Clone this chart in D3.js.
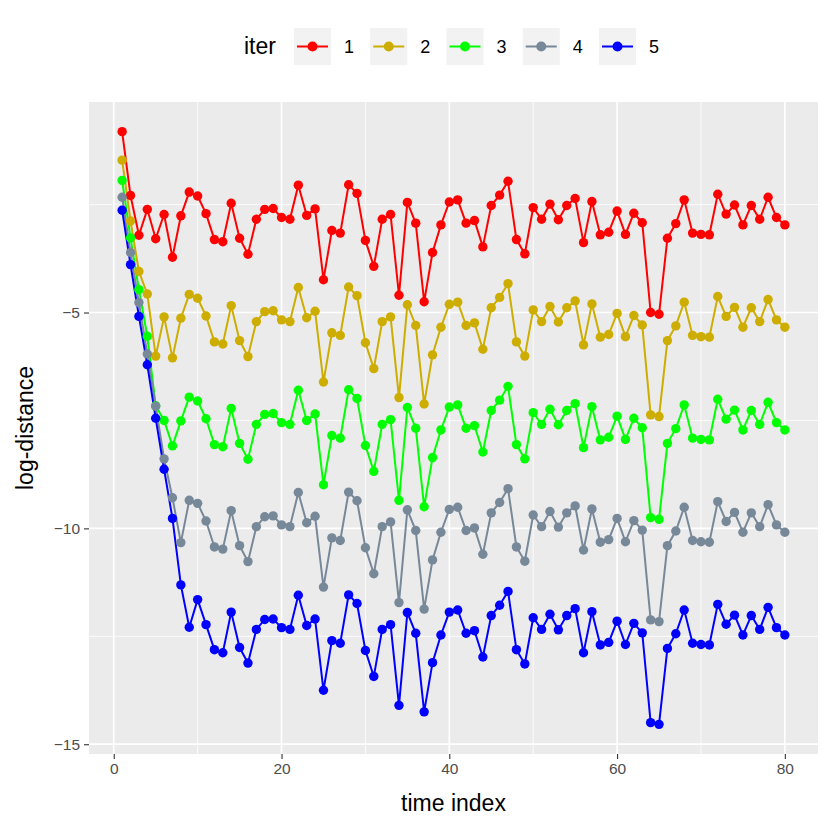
<!DOCTYPE html>
<html>
<head>
<meta charset="utf-8">
<script src="https://cdn.jsdelivr.net/npm/d3@7"></script>
<style>
  body { margin: 0; background: #fff; }
  text { font-family: "Liberation Sans", Arial, sans-serif; }
</style>
</head>
<body>
<div class="chart"></div>
<script>
// log-distance per iteration, time index 1..80
let iters = ['1', '2', '3', '4', '5'];
let colors = ['#FF0000', '#CDAD00', '#00FF00', '#778899', '#0000FF'];

let iter1 = [-0.81, -2.29, -3.21, -2.61, -3.29, -2.73, -3.72, -2.76, -2.21, -2.30,
  -2.71, -3.31, -3.36, -2.47, -3.28, -3.65, -2.84, -2.61, -2.59, -2.80,
  -2.84, -2.05, -2.75, -2.60, -4.24, -3.10, -3.16, -2.04, -2.24, -3.33,
  -3.93, -2.84, -2.73, -4.60, -2.45, -2.93, -4.75, -3.61, -2.97, -2.44,
  -2.39, -2.93, -2.87, -3.48, -2.52, -2.28, -1.96, -3.31, -3.64, -2.57,
  -2.84, -2.49, -2.85, -2.52, -2.36, -3.38, -2.43, -3.20, -3.14, -2.65,
  -3.19, -2.70, -2.92, -5.00, -5.04, -3.28, -2.94, -2.39, -3.16, -3.19,
  -3.20, -2.26, -2.72, -2.51, -2.97, -2.52, -2.84, -2.33, -2.80, -2.97];

let iter2 = [-1.47, -2.88, -4.05, -4.57, -6.01, -5.10, -6.05, -5.13, -4.58, -4.67,
  -5.08, -5.68, -5.73, -4.84, -5.65, -6.02, -5.21, -4.98, -4.96, -5.17,
  -5.21, -4.42, -5.12, -4.97, -6.61, -5.47, -5.53, -4.41, -4.61, -5.70,
  -6.30, -5.21, -5.10, -6.97, -4.82, -5.30, -7.12, -5.98, -5.34, -4.81,
  -4.76, -5.30, -5.24, -5.85, -4.89, -4.65, -4.33, -5.68, -6.01, -4.94,
  -5.21, -4.86, -5.22, -4.89, -4.73, -5.75, -4.80, -5.57, -5.51, -5.02,
  -5.56, -5.07, -5.29, -7.37, -7.41, -5.65, -5.31, -4.76, -5.53, -5.56,
  -5.57, -4.63, -5.09, -4.88, -5.34, -4.89, -5.21, -4.70, -5.17, -5.34];

let iter3 = [-1.94, -3.27, -4.47, -5.55, -7.16, -7.50, -8.09, -7.51, -6.96, -7.05,
  -7.46, -8.06, -8.11, -7.22, -8.03, -8.40, -7.59, -7.36, -7.34, -7.55,
  -7.59, -6.80, -7.50, -7.35, -8.99, -7.85, -7.91, -6.79, -6.99, -8.08,
  -8.68, -7.59, -7.48, -9.35, -7.20, -7.68, -9.50, -8.36, -7.72, -7.19,
  -7.14, -7.68, -7.62, -8.23, -7.27, -7.03, -6.71, -8.06, -8.39, -7.32,
  -7.59, -7.24, -7.60, -7.27, -7.11, -8.13, -7.18, -7.95, -7.89, -7.40,
  -7.94, -7.45, -7.67, -9.75, -9.79, -8.03, -7.69, -7.14, -7.91, -7.94,
  -7.95, -7.01, -7.47, -7.26, -7.72, -7.27, -7.59, -7.08, -7.55, -7.72];

let iter4 = [-2.33, -3.61, -4.77, -5.96, -7.17, -8.39, -9.29, -10.33, -9.35, -9.42,
  -9.83, -10.43, -10.48, -9.59, -10.40, -10.77, -9.96, -9.73, -9.71, -9.92,
  -9.96, -9.17, -9.87, -9.72, -11.36, -10.22, -10.28, -9.16, -9.36, -10.45,
  -11.05, -9.96, -9.85, -11.72, -9.57, -10.05, -11.87, -10.73, -10.09, -9.56,
  -9.51, -10.05, -9.99, -10.60, -9.64, -9.40, -9.08, -10.43, -10.76, -9.69,
  -9.96, -9.61, -9.97, -9.64, -9.48, -10.50, -9.55, -10.32, -10.26, -9.77,
  -10.31, -9.82, -10.04, -12.12, -12.16, -10.40, -10.06, -9.51, -10.28, -10.31,
  -10.32, -9.38, -9.84, -9.63, -10.09, -9.64, -9.96, -9.45, -9.92, -10.09];

let iter5 = [-2.63, -3.89, -5.09, -6.21, -7.45, -8.63, -9.77, -11.31, -12.29, -11.65,
  -12.23, -12.81, -12.88, -11.94, -12.76, -13.12, -12.34, -12.11, -12.10, -12.30,
  -12.34, -11.55, -12.25, -12.10, -13.75, -12.60, -12.66, -11.54, -11.74, -12.83,
  -13.43, -12.34, -12.23, -14.10, -11.95, -12.43, -14.25, -13.11, -12.47, -11.94,
  -11.89, -12.43, -12.37, -12.98, -12.02, -11.78, -11.46, -12.81, -13.14, -12.07,
  -12.34, -11.99, -12.35, -12.02, -11.86, -12.88, -11.93, -12.70, -12.64, -12.15,
  -12.69, -12.20, -12.42, -14.50, -14.54, -12.78, -12.44, -11.89, -12.66, -12.69,
  -12.70, -11.76, -12.22, -12.01, -12.47, -12.02, -12.34, -11.83, -12.30, -12.47];

let xTicks = [0, 20, 40, 60, 80];
let yTicks = [-5, -10, -15];

let allSeries = [iter1, iter2, iter3, iter4, iter5];
let series = iters.map((name, k) => ({
  name: name,
  color: colors[k],
  values: allSeries[k].map((v, i) => ({ t: i + 1, v: v }))
}));

let W = 830, H = 830;
let panelL = 89, panelR = 818, panelT = 102, panelB = 754;

let svg = d3.select('.chart')
  .append('svg')
  .attr('width', W)
  .attr('height', H);

// ggplot style 5% padding
let xExt = [1, 80];
let yExt = d3.extent(allSeries.flat());
let xPad = (xExt[1] - xExt[0]) * 0.05;
let yPad = (yExt[1] - yExt[0]) * 0.05;

let x = d3.scaleLinear()
  .domain([xExt[0] - xPad, xExt[1] + xPad])
  .range([panelL, panelR]);
let y = d3.scaleLinear()
  .domain([yExt[0] - yPad, yExt[1] + yPad])
  .range([panelB, panelT]);

svg.append('rect')
  .attr('x', panelL).attr('y', panelT)
  .attr('width', panelR - panelL).attr('height', panelB - panelT)
  .attr('fill', '#EBEBEB');

// minor grid
let xMinor = d3.range(10, 80, 20);
let yMinor = [-2.5, -7.5, -12.5];
svg.append('g').selectAll('line')
  .data(xMinor).join('line')
  .attr('x1', d => x(d)).attr('x2', d => x(d))
  .attr('y1', panelT).attr('y2', panelB)
  .attr('stroke', '#fff').attr('stroke-width', 0.8);
svg.append('g').selectAll('line')
  .data(yMinor).join('line')
  .attr('x1', panelL).attr('x2', panelR)
  .attr('y1', d => y(d)).attr('y2', d => y(d))
  .attr('stroke', '#fff').attr('stroke-width', 0.8);

// major grid
svg.append('g').selectAll('line')
  .data(xTicks).join('line')
  .attr('x1', d => x(d)).attr('x2', d => x(d))
  .attr('y1', panelT).attr('y2', panelB)
  .attr('stroke', '#fff').attr('stroke-width', 1.7);
svg.append('g').selectAll('line')
  .data(yTicks).join('line')
  .attr('x1', panelL).attr('x2', panelR)
  .attr('y1', d => y(d)).attr('y2', d => y(d))
  .attr('stroke', '#fff').attr('stroke-width', 1.7);

// axes
let xAxis = d3.axisBottom(x).tickValues(xTicks).tickSize(5).tickPadding(4);
let yAxis = d3.axisLeft(y).tickValues(yTicks).tickSize(5).tickPadding(4)
  .tickFormat(d => d3.format('d')(d).replace('-', '\u2212'));

let gx = svg.append('g')
  .attr('transform', `translate(0,${panelB})`)
  .call(xAxis);
let gy = svg.append('g')
  .attr('transform', `translate(${panelL},0)`)
  .call(yAxis);

[gx, gy].forEach(g => {
  g.select('.domain').remove();
  g.selectAll('.tick line').attr('stroke', '#333333').attr('stroke-width', 1.1);
  g.selectAll('.tick text')
    .attr('fill', '#4D4D4D')
    .style('font-size', '15.5px')
    .style('font-family', '"Liberation Sans", Arial, sans-serif');
});

svg.append('text')
  .attr('x', (panelL + panelR) / 2)
  .attr('y', 811)
  .attr('text-anchor', 'middle')
  .style('font-size', '23px')
  .text('time index');

svg.append('text')
  .attr('transform', `translate(33,${(panelT + panelB) / 2}) rotate(-90)`)
  .attr('text-anchor', 'middle')
  .style('font-size', '23px')
  .text('log-distance');

// lines and points
let line = d3.line()
  .x(d => x(d.t))
  .y(d => y(d.v));

let plot = svg.append('g');
series.forEach(s => {
  plot.append('path')
    .attr('d', line(s.values))
    .attr('fill', 'none')
    .attr('stroke', s.color)
    .attr('stroke-width', 2);
});
series.forEach(s => {
  plot.append('g').selectAll('circle')
    .data(s.values).join('circle')
    .attr('cx', d => x(d.t))
    .attr('cy', d => y(d.v))
    .attr('r', 4.7)
    .attr('fill', s.color);
});

// legend
let legend = svg.append('g');
legend.append('text')
  .attr('x', 244)
  .attr('y', 54)
  .style('font-size', '23px')
  .text('iter');

let keyX = d3.scalePoint().domain(iters).range([294, 599]);
iters.forEach((name, k) => {
  let kx = keyX(name);
  let g = legend.append('g').attr('transform', `translate(${kx},28)`);
  g.append('rect')
    .attr('width', 37).attr('height', 37)
    .attr('fill', '#F2F2F2');
  g.append('line')
    .attr('x1', 3).attr('x2', 34)
    .attr('y1', 18.5).attr('y2', 18.5)
    .attr('stroke', colors[k]).attr('stroke-width', 2);
  g.append('circle')
    .attr('cx', 18.5).attr('cy', 18.5).attr('r', 5)
    .attr('fill', colors[k]);
  g.append('text')
    .attr('x', 50).attr('y', 25)
    .style('font-size', '18px')
    .text(name);
});
</script>
</body>
</html>
